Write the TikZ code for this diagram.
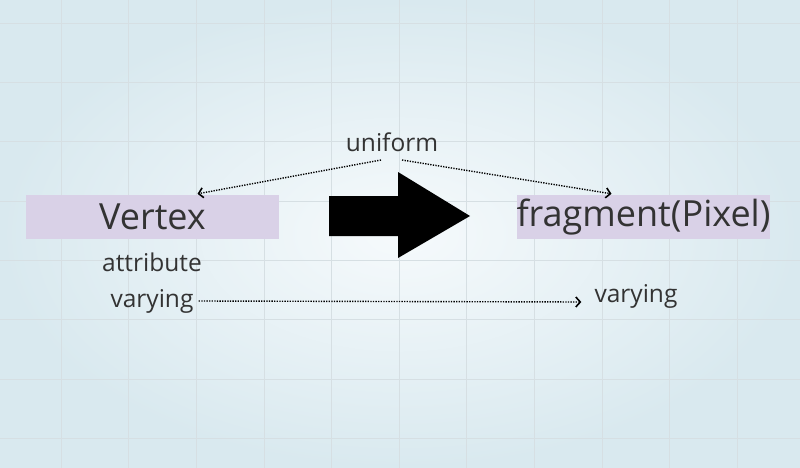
\documentclass[tikz,border=0pt]{standalone}
\usepackage{fontspec}
\setmainfont{Open Sans}
\usepackage{xcolor}
\usepackage{tikz}
\usetikzlibrary{arrows.meta,positioning,calc}
\definecolor{bgEdge}{HTML}{D9E9EF}
\definecolor{bgMid}{HTML}{F6FAFC}
\definecolor{gridL}{HTML}{D6DFE3}
\definecolor{boxL}{HTML}{D9D1E7}
\definecolor{inkT}{HTML}{333333}
\tikzset{
  stagebox/.style={fill=boxL, draw=none, minimum width=253pt, minimum height=44pt,
                   inner sep=0pt, text=inkT, font=\fontsize{36}{40}\selectfont},
  qual/.style={text=inkT, inner sep=1pt, font=\fontsize{24.5}{28}\selectfont},
  dotflow/.style={line width=1.4pt, dash pattern=on 1.3pt off 1.3pt, color=black,
                  -{Straight Barb[length=4.5pt,width=10pt,line width=1.6pt]}},
}

\begin{document}
\begin{tikzpicture}[x=1pt, y=-1pt]
  \useasboundingbox (0,0) rectangle (800,468);
  % background and grid
  \shade[inner color=bgMid, outer color=bgEdge] (0,0) rectangle (800,468);
  \foreach \gx in {61,128.6,196.2,263.8,331.4,399,466.6,534.2,601.8,669.4,737}
    \draw[gridL, thin] (\gx,0) -- (\gx,468);
  \foreach \gy in {23,82.3,141.6,200.9,260.2,319.5,378.8,438.1}
    \draw[gridL, thin] (0,\gy) -- (800,\gy);
  % stages
  \node[stagebox] (vtx) at (152.5,217) {Vertex};
  \node[stagebox] (frag) at (643.5,217) {fragment(Pixel)};
  % qualifiers
  \node[qual] (unif) at (392,142) {uniform};
  \node[qual] (attr) at (152,262) {attribute};
  \node[qual] (vary) at (152,301) {varying};
  \node[qual] (varyb) at (636,296) {varying};
  % big arrow
  \coordinate (bigtail) at (329,216);
  \fill[black] (bigtail) ++(0,-20) -- ++(69,0) -- ++(0,-24) -- (470,216)
    -- (398,258) -- (398,236) -- (329,236) -- cycle;
  % connectors
  \coordinate (ul) at (381,160);
  \coordinate (ur) at (402,160);
  \draw[dotflow] (ul) -- ($(vtx.north)+(45,-1)$);
  \draw[dotflow] (ur) -- ($(frag.north)+(-32,-1)$);
  \draw[dotflow] (vary.east) ++(4,0) coordinate (vs) (vs) -- ($(varyb.west)+(-12,6)$);
\end{tikzpicture}
\end{document}
